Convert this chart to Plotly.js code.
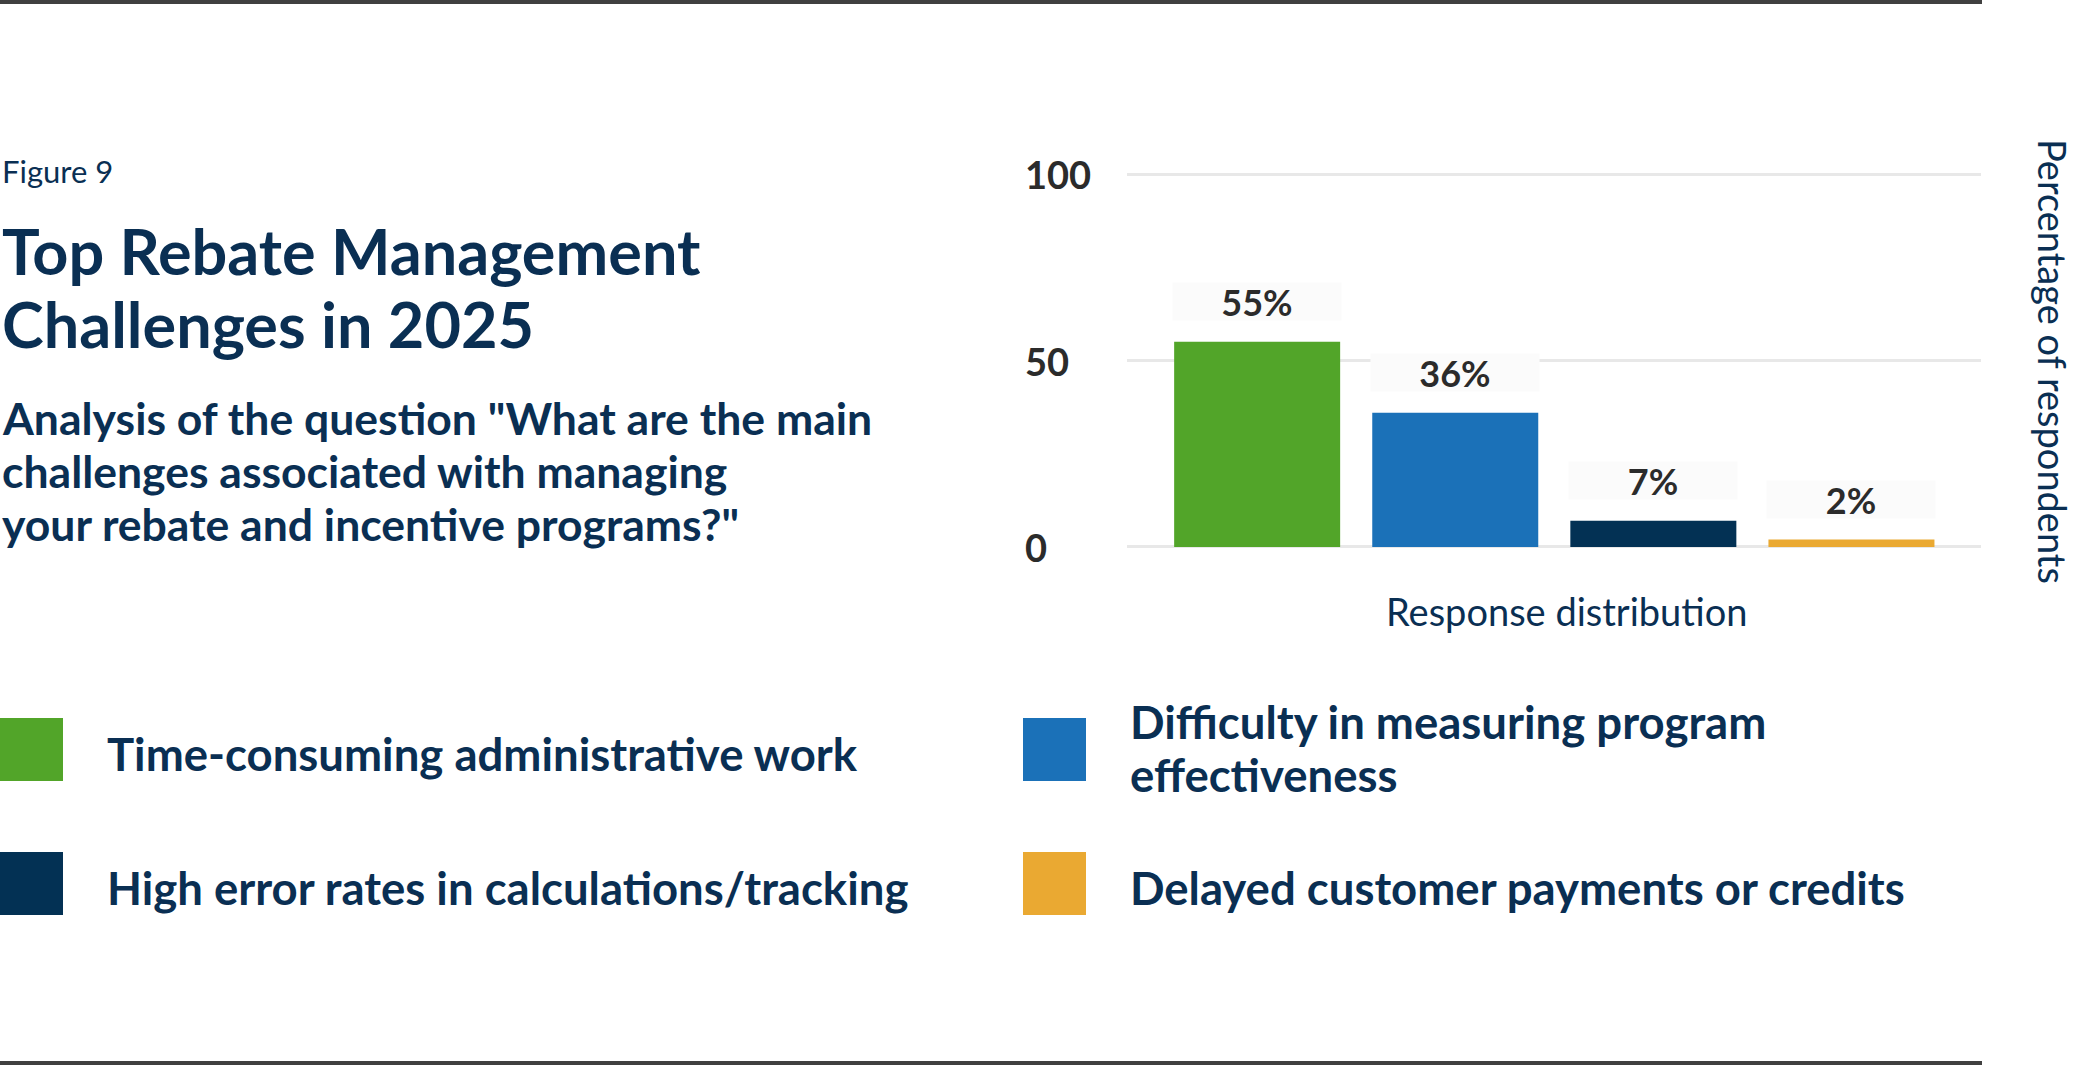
<!DOCTYPE html>
<html>
<head>
<meta charset="utf-8">
<script src="https://cdn.plot.ly/plotly-3.0.1.min.js"></script>
<style>
  html, body { margin: 0; padding: 0; background: #fff; }
  #chart { width: 2079px; height: 1066px; }
</style>
</head>
<body>
<div id="chart"></div>
<script>
// data
const categories = ['Time-consuming administrative work',
  'Difficulty in measuring program effectiveness',
  'High error rates in calculations/tracking',
  'Delayed customer payments or credits'];
const legendLines = [['Time-consuming administrative work'],
  ['Difficulty in measuring program', 'effectiveness'],
  ['High error rates in calculations/tracking'],
  ['Delayed customer payments or credits']];
const values = [55, 36, 7, 2];
const colors = ['#52a529', '#1b71b8', '#033154', '#eaa932'];
const tickVals = [0, 50, 100];
const titleLines = ['Top Rebate Management', 'Challenges in 2025'];
const subtitleLines = ['Analysis of the question "What are the main',
  'challenges associated with managing',
  'your rebate and incentive programs?"'];

const W = 2079, H = 1066;
const NAVY = '#0a2f53';
const DARK = '#2b2b2b';
const FONT = 'Lato, "Open Sans", sans-serif';
const px = x => x / W;
const py = y => 1 - y / H;

const trace = {
  type: 'bar',
  x: categories,
  y: values,
  marker: { color: colors },
  hoverinfo: 'skip',
  showlegend: false
};

const annotations = [];

// one left-aligned line of text, placed by its centre (pixels)
function textLine(txt, x, y, size, weight) {
  annotations.push({
    xref: 'paper', yref: 'paper', x: px(x), y: py(y), xanchor: 'left', yanchor: 'middle',
    text: txt, showarrow: false, align: 'left',
    font: { family: FONT, size: size, color: NAVY, weight: weight }
  });
}

// header text
textLine('Figure 9', 0, 171, 31, 400);
titleLines.forEach((t, i) => textLine(t, 0, 251 + i * 72, 63, 700));
subtitleLines.forEach((t, i) => textLine(t, 0, 417 + i * 53, 44.5, 700));

// y tick labels, left aligned
tickVals.forEach(v => annotations.push({
  xref: 'paper', yref: 'y', x: px(1023), y: v, xanchor: 'left', yanchor: 'middle',
  text: String(v), showarrow: false,
  font: { family: FONT, size: 38, color: DARK, weight: 700 }
}));

// value labels above the bars
categories.forEach((c, i) => annotations.push({
  xref: 'x', yref: 'y', x: c, y: values[i], xanchor: 'center', yanchor: 'bottom',
  yshift: 21, width: 166, height: 35, bgcolor: '#fbfbfb',
  text: values[i] + '%', showarrow: false,
  font: { family: FONT, size: 36, color: DARK, weight: 700 }
}));

// axis captions
annotations.push({
  xref: 'paper', yref: 'paper', x: px(1566), y: py(611), xanchor: 'center', yanchor: 'middle',
  text: 'Response distribution', showarrow: false,
  font: { family: FONT, size: 38, color: NAVY }
});
annotations.push({
  xref: 'paper', yref: 'paper', x: px(2053), y: py(361), xanchor: 'center', yanchor: 'middle',
  text: 'Percentage of respondents', textangle: 90, showarrow: false,
  font: { family: FONT, size: 38, color: NAVY }
});

// legend: 2 x 2 grid of swatches
const shapes = [];
const colX = [0, 1023];
const rowY = [718, 852];
legendLines.forEach((lines, i) => {
  const x0 = colX[i % 2], y0 = rowY[Math.floor(i / 2)];
  shapes.push({
    type: 'rect', xref: 'paper', yref: 'paper',
    x0: px(x0), x1: px(x0 + 63), y0: py(y0), y1: py(y0 + 63),
    fillcolor: colors[i], line: { width: 0 }
  });
  const first = lines.length > 1 ? y0 + 3 : y0 + 35;
  lines.forEach((t, j) => textLine(t, x0 + 105, first + j * 53, 45.5, 700));
});

// top and bottom rules
shapes.push({ type: 'line', xref: 'paper', yref: 'paper', x0: 0, x1: px(1982), y0: py(2), y1: py(2),
  line: { color: '#404040', width: 4 } });
shapes.push({ type: 'line', xref: 'paper', yref: 'paper', x0: 0, x1: px(1982), y0: py(1063), y1: py(1063),
  line: { color: '#404040', width: 4 } });

const layout = {
  width: W, height: H,
  margin: { l: 0, r: 0, t: 0, b: 0 },
  paper_bgcolor: '#fff', plot_bgcolor: '#fff',
  bargap: 0.162,
  xaxis: {
    domain: [px(1127), px(1981)],
    type: 'category',
    range: [-0.657, 3.654],
    showticklabels: false, ticks: '', showgrid: false, zeroline: false, showline: false,
    fixedrange: true
  },
  yaxis: {
    domain: [py(550.7), py(170.3)],
    range: [-1, 101],
    tickvals: tickVals,
    showticklabels: false, ticks: '',
    showgrid: true, gridcolor: '#e8e8e8', gridwidth: 3,
    zeroline: false, showline: false, fixedrange: true
  },
  annotations: annotations,
  shapes: shapes
};

Plotly.newPlot('chart', [trace], layout, { displayModeBar: false, staticPlot: true });
</script>
</body>
</html>
